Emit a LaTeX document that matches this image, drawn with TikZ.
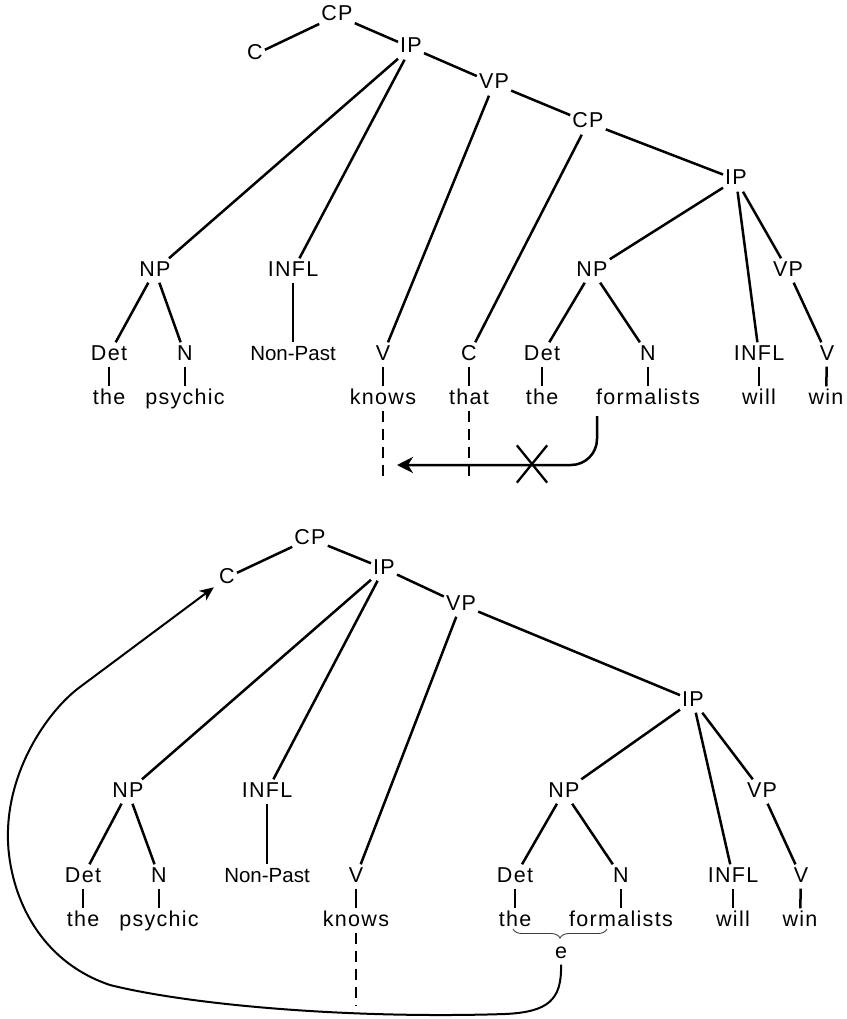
\documentclass[tikz,border=0pt]{standalone}
\usepackage{fontspec}
\setmainfont{Liberation Sans}
\newfontfamily\labfont[LetterSpace=6]{Liberation Sans}
\usetikzlibrary{arrows.meta,decorations.pathreplacing,shapes.misc}
\begin{document}
\begin{tikzpicture}[x=1pt,y=-1pt,
  lab/.style={font=\labfont\fontsize{21.5}{25}\selectfont, inner sep=2pt, text height=15.5pt, text depth=4.5pt, anchor=base},
  npst/.style={font=\fontsize{20.5}{24}\selectfont, inner sep=2pt, text height=15.5pt, text depth=4.5pt, anchor=base},
  edge/.style={line width=2.5pt},
  trace/.style={line width=2.3pt, dash pattern=on 11pt off 7pt},
  movearrow/.style={line width=2.5pt, rounded corners=26pt, -{Stealth[length=16pt,width=16pt,inset=5pt]}},
  bigarrow/.style={line width=2pt, shorten >=4pt, -{Stealth[length=14pt,width=12pt,inset=4pt]}},
  bracest/.style={decorate, decoration={brace, mirror, amplitude=9pt}, line width=0.9pt, black!75}
]
\useasboundingbox (0,0) rectangle (846,1019);

% ---------------- top tree ----------------
\node[lab] (tCP) at (337,21) {CP};
\node[lab] (tC) at (255,60) {C};
\node[lab] (tIP) at (411,53) {IP};
\node[lab] (tVP) at (494,89) {VP};
\node[lab] (tCP2) at (588,128) {CP};
\node[lab] (tIP2) at (736,185) {IP};
\node[lab] (tNP) at (155,276) {NP};
\node[lab] (tINFL) at (293,276) {INFL};
\node[lab] (tNP2) at (592,276) {NP};
\node[lab] (tVP2) at (788,276) {VP};
\node[lab] (tDet) at (109,360) {Det};
\node[lab] (tN) at (185,360) {N};
\node[npst] (tNonPast) at (293,360) {Non-Past};
\node[lab] (tV) at (383,360) {V};
\node[lab] (tC2) at (469,360) {C};
\node[lab] (tDet2) at (542,360) {Det};
\node[lab] (tN2) at (648,360) {N};
\node[lab] (tINFL2) at (759,360) {INFL};
\node[lab] (tV2) at (827,360) {V};
\node[lab] (tw1) at (109,404) {the};
\node[lab] (tw2) at (185,404) {psychic};
\node[lab] (tw3) at (383,404) {knows};
\node[lab] (tw4) at (469,404) {that};
\node[lab] (tw5) at (542,404) {the};
\node[lab] (tw6) at (648,404) {formalists};
\node[lab] (tw7) at (759,404) {will};
\node[lab] (tw8) at (826,404) {win};

\draw[edge] (tCP) -- (tC);
\draw[edge] (tCP) -- (tIP);
\draw[edge] (tIP) -- (tNP);
\draw[edge] (tIP) -- (tINFL);
\draw[edge] (tIP) -- (tVP);
\draw[edge] (tVP) -- (tV);
\draw[edge] (tVP) -- (tCP2);
\draw[edge] (tCP2) -- (tC2);
\draw[edge] (tCP2) -- (tIP2);
\draw[edge] (tIP2) -- (tNP2);
\draw[edge] (tIP2) -- (tINFL2);
\draw[edge] (tIP2) -- (tVP2);
\draw[edge] (tNP) -- (tDet);
\draw[edge] (tNP) -- (tN);
\draw[edge] (tINFL) -- (tNonPast);
\draw[edge] (tNP2) -- (tDet2);
\draw[edge] (tNP2) -- (tN2);
\draw[edge] (tVP2) -- (tV2);
\draw[edge] (tDet) -- (tw1);
\draw[edge] (tN) -- (tw2);
\draw[edge] (tV) -- (tw3);
\draw[edge] (tC2) -- (tw4);
\draw[edge] (tDet2) -- (tw5);
\draw[edge] (tN2) -- (tw6);
\draw[edge] (tINFL2) -- (tw7);
\draw[edge] (tV2) -- (tw8);

\coordinate (tk) at (383,478);
\coordinate (tt) at (469,478);
\draw[trace] (tw3) -- (tk);
\draw[trace] (tw4) -- (tt);

\coordinate (as) at (597,416);
\coordinate (ae) at (397,465);
\draw[movearrow] (as) |- (ae);
\node[cross out, draw, line width=2.3pt, minimum width=28pt, minimum height=35pt, inner sep=0pt] (xm) at (532,464) {};

% ---------------- bottom tree ----------------
\node[lab] (bCP) at (310,544) {CP};
\node[lab] (bC) at (227,583) {C};
\node[lab] (bIP) at (384,574) {IP};
\node[lab] (bVP) at (461,610) {VP};
\node[lab] (bIP2) at (693,706) {IP};
\node[lab] (bNP) at (128,797) {NP};
\node[lab] (bINFL) at (267,797) {INFL};
\node[lab] (bNP2) at (564,797) {NP};
\node[lab] (bVP2) at (762,797) {VP};
\node[lab] (bDet) at (83,882) {Det};
\node[lab] (bN) at (159,882) {N};
\node[npst] (bNonPast) at (267,882) {Non-Past};
\node[lab] (bV) at (356,882) {V};
\node[lab] (bDet2) at (515,882) {Det};
\node[lab] (bN2) at (621,882) {N};
\node[lab] (bINFL2) at (733,882) {INFL};
\node[lab] (bV2) at (801,882) {V};
\node[lab] (bw1) at (83,926) {the};
\node[lab] (bw2) at (159,926) {psychic};
\node[lab] (bw3) at (356,926) {knows};
\node[lab] (bw5) at (515,926) {the};
\node[lab] (bw6) at (621,926) {formalists};
\node[lab] (bw7) at (733,926) {will};
\node[lab] (bw8) at (800,926) {win};
\node[lab] (be) at (561,958) {e};

\draw[edge] (bCP) -- (bC);
\draw[edge] (bCP) -- (bIP);
\draw[edge] (bIP) -- (bNP);
\draw[edge] (bIP) -- (bINFL);
\draw[edge] (bIP) -- (bVP);
\draw[edge] (bVP) -- (bV);
\draw[edge] (bVP) -- (bIP2);
\draw[edge] (bIP2) -- (bNP2);
\draw[edge] (bIP2) -- (bINFL2);
\draw[edge] (bIP2) -- (bVP2);
\draw[edge] (bNP) -- (bDet);
\draw[edge] (bNP) -- (bN);
\draw[edge] (bINFL) -- (bNonPast);
\draw[edge] (bNP2) -- (bDet2);
\draw[edge] (bNP2) -- (bN2);
\draw[edge] (bVP2) -- (bV2);
\draw[edge] (bDet) -- (bw1);
\draw[edge] (bN) -- (bw2);
\draw[edge] (bV) -- (bw3);
\draw[edge] (bDet2) -- (bw5);
\draw[edge] (bN2) -- (bw6);
\draw[edge] (bINFL2) -- (bw7);
\draw[edge] (bV2) -- (bw8);

\coordinate (bk) at (356,1005);
\draw[trace] (bw3) -- (bk);

\coordinate (br1) at (513,929);
\coordinate (br2) at (607,929);
\draw[bracest] (br1) -- (br2);

\draw[bigarrow] (be.south) .. controls (562,1000) and (548,1012) .. (505,1014)
  .. controls (350,1019) and (190,1005) .. (110,985)
  .. controls (30,958) and (6,880) .. (8,830)
  .. controls (10,765) and (50,709) .. (80,687) -- (bC);
\end{tikzpicture}
\end{document}
